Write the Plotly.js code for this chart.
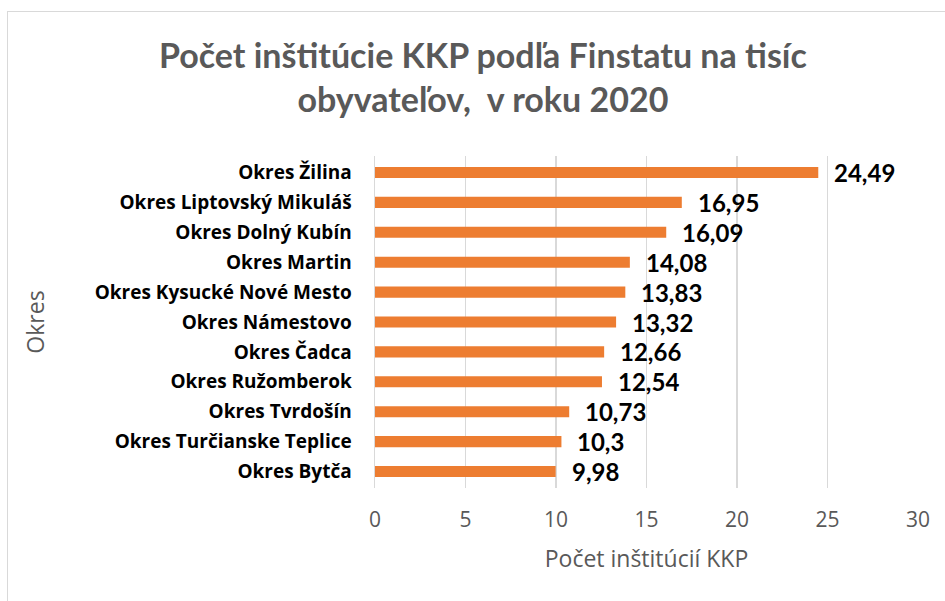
<!DOCTYPE html>
<html>
<head>
<meta charset="utf-8">
<script src="https://cdn.plot.ly/plotly-3.0.1.min.js"></script>
<style>
  html, body { margin: 0; padding: 0; background: #fff; }
  #wrap { position: relative; width: 945px; height: 601px; overflow: hidden; }
  #frame { position: absolute; left: 7px; top: 11px; width: 1000px; height: 700px; border: 1px solid #d9d9d9; box-sizing: border-box; }
  #chart { position: absolute; left: 0; top: 0; width: 945px; height: 601px; }
</style>
</head>
<body>
<div id="wrap">
  <div id="frame"></div>
  <div id="chart"></div>
</div>
<script>
const categories = [
  "Okres Žilina",
  "Okres Liptovský Mikuláš",
  "Okres Dolný Kubín",
  "Okres Martin",
  "Okres Kysucké Nové Mesto",
  "Okres Námestovo",
  "Okres Čadca",
  "Okres Ružomberok",
  "Okres Tvrdošín",
  "Okres Turčianske Teplice",
  "Okres Bytča"
];
const values = [24.49, 16.95, 16.09, 14.08, 13.83, 13.32, 12.66, 12.54, 10.73, 10.3, 9.98];
const xTicks = [0, 5, 10, 15, 20, 25, 30];

const titleText = "Počet inštitúcie KKP podľa Finstatu na tisíc<br>obyvateľov,  v roku 2020";
const xTitle = "Počet inštitúcií KKP";
const yTitle = "Okres";

const labels = values.map(v => String(v).replace('.', ','));

const trace = {
  type: 'bar',
  orientation: 'h',
  x: values,
  y: categories,
  marker: { color: '#ED7D31' },
  hoverinfo: 'skip'
};

const annotations = values.map((v, i) => ({
  x: v, y: categories[i], xref: 'x', yref: 'y',
  text: labels[i], showarrow: false,
  xanchor: 'left', yanchor: 'middle', xshift: 14, yshift: 0,
  font: { family: 'Lato, sans-serif', size: 24, color: '#000000', weight: 'bold' }
}));

const layout = {
  width: 945, height: 601,
  paper_bgcolor: 'rgba(0,0,0,0)', plot_bgcolor: 'rgba(0,0,0,0)',
  margin: { l: 375, r: 27, t: 156, b: 113 },
  bargap: 0.63,
  showlegend: false,
  title: {
    text: titleText,
    x: 0.511, xanchor: 'center', xref: 'container',
    y: 0.887, yanchor: 'middle', yref: 'container',
    font: { family: 'Lato, sans-serif', size: 34, color: '#595959', weight: 'bold' }
  },
  xaxis: {
    range: [0, 30],
    tickvals: xTicks,
    ticktext: xTicks.map(String),
    showgrid: true, gridcolor: '#d9d9d9', gridwidth: 1.5,
    zeroline: false, showline: false,
    ticks: '', ticklabelstandoff: 17,
    tickfont: { family: '"Open Sans", sans-serif', size: 21, color: '#595959' },
    title: { text: xTitle, standoff: 18, font: { family: '"Open Sans", sans-serif', size: 23, color: '#595959' } },
    fixedrange: true
  },
  yaxis: {
    autorange: 'reversed',
    type: 'category',
    showgrid: false, zeroline: false,
    showline: true, linecolor: '#d9d9d9', linewidth: 1.5,
    ticks: '', ticklabelstandoff: 18,
    tickfont: { family: '"Open Sans", sans-serif', size: 19, color: '#000000', weight: 'bold' },
    title: { text: yTitle, standoff: 43, font: { family: '"Open Sans", sans-serif', size: 23, color: '#595959' } },
    fixedrange: true
  },
  annotations: annotations
};

Plotly.newPlot('chart', [trace], layout, { displayModeBar: false, staticPlot: true });
</script>
</body>
</html>
